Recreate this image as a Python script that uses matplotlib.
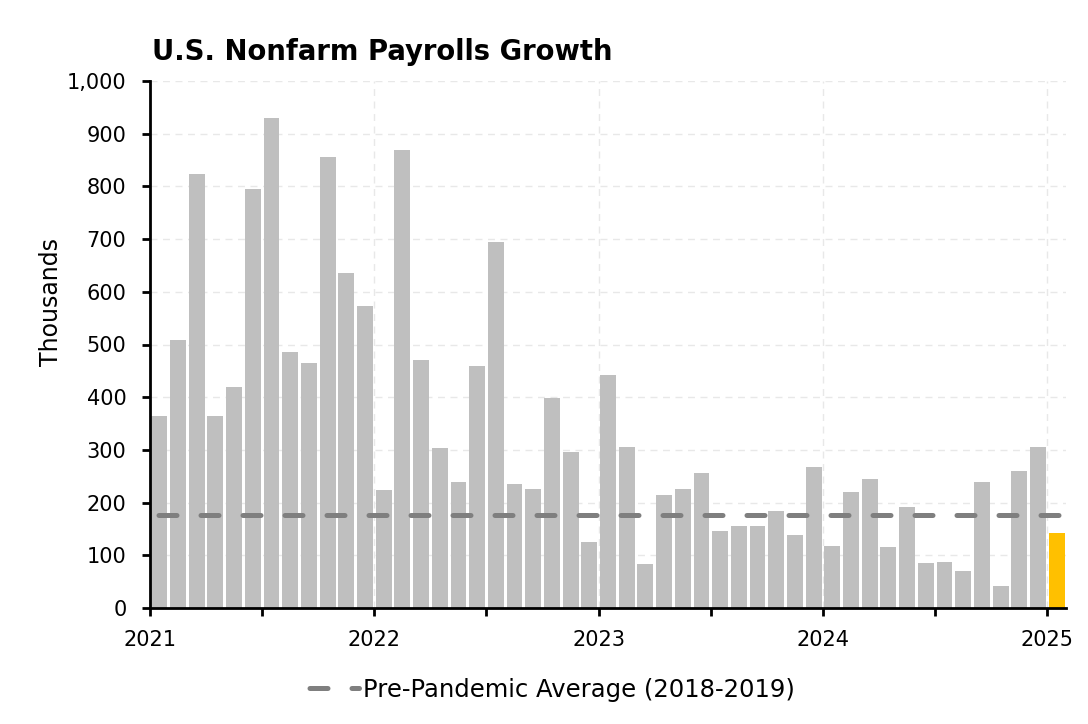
import matplotlib
matplotlib.use("Agg")
import matplotlib.pyplot as plt
from matplotlib.ticker import FuncFormatter, MultipleLocator

months = [f"{y}-{m:02d}" for y in range(2021, 2025) for m in range(1, 13)] + ["2025-01"]
payrolls = [365, 508, 823, 365, 419, 795, 930, 485, 465, 855, 636, 573,
            224, 869, 470, 304, 239, 459, 694, 236, 226, 399, 296, 125,
            442, 305, 84, 215, 226, 257, 146, 156, 156, 184, 139, 267,
            118, 220, 245, 116, 192, 86, 87, 70, 239, 42, 260, 305,
            143]
pre_pandemic_avg = 177
year_labels = ["2021", "2022", "2023", "2024", "2025"]
y_ticks = [0, 100, 200, 300, 400, 500, 600, 700, 800, 900, 1000]

plt.rcParams['font.family'] = ['DejaVu Sans']

fig = plt.figure(figsize=(10.88, 7.24), dpi=100)
ax = fig.add_axes([150/1088, 1-608/724, (1066-150)/1088, (608-81)/724])

n = len(payrolls)
xs = [i + 0.5 for i in range(n)]
colors = ['#bfbfbf'] * (n - 1) + ['#ffc000']
ax.bar(xs, payrolls, width=0.85, color=colors, zorder=2)

ax.axhline(pre_pandemic_avg, color='#7f7f7f', lw=3.6, ls=(6.7, (3.6, 4.8)),
           dash_capstyle='round', zorder=3, label='Pre-Pandemic Average (2018-2019)')

ax.set_xlim(0, n)
ax.set_ylim(0, 1000)
ax.set_xticks([12 * i for i in range(len(year_labels))])
ax.set_xticklabels(year_labels)
ax.xaxis.set_minor_locator(MultipleLocator(6))
ax.set_yticks(y_ticks)
ax.yaxis.set_major_formatter(FuncFormatter(lambda v, p: f"{int(v):,}"))

ax.grid(True, which='major', color='#e8e8e8', ls=(0, (5, 4)), lw=1, zorder=0)
ax.set_axisbelow(True)

for s in ['top', 'right']:
    ax.spines[s].set_visible(False)
for s in ['left', 'bottom']:
    ax.spines[s].set_linewidth(2)
    ax.spines[s].set_color('black')
    ax.spines[s].set_zorder(4)

ax.tick_params(axis='both', which='major', length=6, width=2, labelsize=15, colors='black')
ax.tick_params(axis='x', which='minor', length=6, width=2)
ax.tick_params(axis='x', pad=10)
ax.tick_params(axis='y', pad=11)

ax.set_ylabel('Thousands', fontsize=17)
ax.yaxis.set_label_coords(-0.095, 0.58)

fig.text(152/1088, 1-52/724, 'U.S. Nonfarm Payrolls Growth', fontsize=19.8,
         fontweight='bold', va='center', ha='left')

leg = ax.legend(loc='center', bbox_to_anchor=(548/1088, 1-690/724),
                bbox_transform=fig.transFigure, frameon=False, fontsize=17.5,
                handlelength=2.4, handletextpad=0.15)

fig.savefig('out.png', dpi=100)
